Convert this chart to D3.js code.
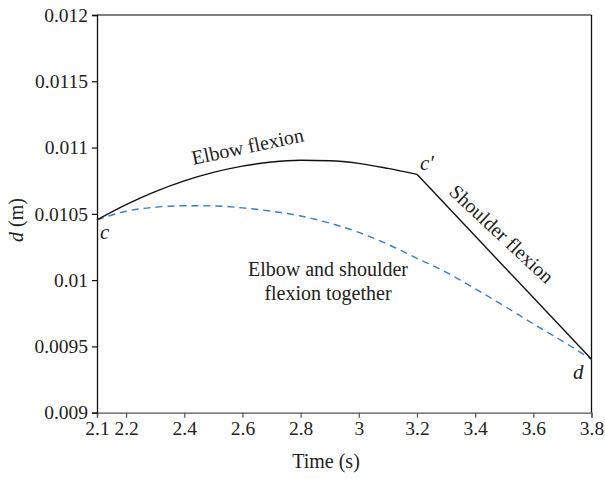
<!DOCTYPE html>
<html>
<head>
<meta charset="utf-8">
<script src="https://cdn.jsdelivr.net/npm/d3@7"></script>
<style>
  body { margin: 0; background: #fff; }
  svg text { font-family: "Liberation Serif", "DejaVu Serif", serif !important; fill: #222; }
</style>
</head>
<body>
<svg id="chart" width="605" height="479"></svg>
<script>
// time stamps (s)
var timeElbow = [2.1, 2.2, 2.3, 2.4, 2.5, 2.6, 2.7, 2.8, 2.9, 3.0, 3.1, 3.2];
var dElbow = [0.010455, 0.010570, 0.010668, 0.010749, 0.010813, 0.010860, 0.010891, 0.010904, 0.010901, 0.010881, 0.010843, 0.010798];
var timeShoulder = [3.2, 3.8];
var dShoulder = [0.010798, 0.009403];
var timeTogether = [2.1, 2.2, 2.3, 2.4, 2.5, 2.6, 2.7, 2.8, 2.9, 3.0, 3.1, 3.2, 3.3, 3.4, 3.5, 3.6, 3.7, 3.8];
var dTogether = [0.010455, 0.010520, 0.010550, 0.010561, 0.010560, 0.010545, 0.010520, 0.010484, 0.010430, 0.010360, 0.010270, 0.010165, 0.010060, 0.009935, 0.009805, 0.009670, 0.009540, 0.009403];
var xTicks = [2.1, 2.2, 2.4, 2.6, 2.8, 3, 3.2, 3.4, 3.6, 3.8];
var yTicks = [0.009, 0.0095, 0.01, 0.0105, 0.011, 0.0115, 0.012];

var serif = '"Liberation Serif", "DejaVu Serif", serif';
var svg = d3.select('#chart');
var mLeft = 97, mRight = 591.5, mTop = 15, mBottom = 412.7;

var x = d3.scaleLinear().domain([2.1, 3.8]).range([mLeft, mRight]);
var y = d3.scaleLinear().domain([0.009, 0.012]).range([mBottom, mTop]);

// frame: top grey, right side black
svg.append('line').attr('x1', mLeft).attr('x2', mRight).attr('y1', mTop).attr('y2', mTop)
	.attr('stroke', '#555').attr('stroke-width', 1.3);
svg.append('line').attr('x1', mRight).attr('x2', mRight).attr('y1', mTop).attr('y2', mBottom)
	.attr('stroke', '#111').attr('stroke-width', 1.3);

var xAxis = svg.append('g')
	.attr('transform', 'translate(0,' + mBottom + ')')
	.call(d3.axisBottom(x).tickValues(xTicks).tickSize(5).tickPadding(3)
		.tickFormat(function (d) { return String(+d.toFixed(1)); }));
xAxis.attr('font-size', null).attr('font-family', serif);
xAxis.select('.domain').attr('stroke', '#555').attr('stroke-width', 1.3);
xAxis.selectAll('.tick line').attr('stroke', '#555').attr('stroke-width', 1.2);
xAxis.selectAll('text').style('font-size', '19.5px').style('font-family', serif).attr('fill', '#222');

var yAxis = svg.append('g')
	.attr('transform', 'translate(' + mLeft + ',0)')
	.call(d3.axisLeft(y).tickValues(yTicks).tickSize(5).tickPadding(4)
		.tickFormat(function (d) { return String(+d.toFixed(4)); }));
yAxis.attr('font-size', null).attr('font-family', serif);
yAxis.select('.domain').attr('stroke', '#111').attr('stroke-width', 1.3);
yAxis.selectAll('.tick line').attr('stroke', '#111').attr('stroke-width', 1.2);
yAxis.selectAll('text').style('font-size', '19.5px').style('font-family', serif).attr('fill', '#222');

var line = d3.line()
	.x(function (d) { return x(d[0]); })
	.y(function (d) { return y(d[1]); })
	.curve(d3.curveMonotoneX);

svg.append('path')
	.datum(d3.zip(timeTogether, dTogether))
	.attr('d', line)
	.attr('fill', 'none')
	.attr('stroke', '#3a7cc9')
	.attr('stroke-width', 1.4)
	.attr('stroke-dasharray', '7,5');

svg.append('path')
	.datum(d3.zip(timeElbow, dElbow))
	.attr('d', line)
	.attr('fill', 'none')
	.attr('stroke', '#111')
	.attr('stroke-width', 1.4);

svg.append('path')
	.datum(d3.zip(timeShoulder, dShoulder))
	.attr('d', d3.line().x(function (d) { return x(d[0]); }).y(function (d) { return y(d[1]); }))
	.attr('fill', 'none')
	.attr('stroke', '#111')
	.attr('stroke-width', 1.4);

function label(t, size) {
	return svg.append('text').style('font-family', serif).style('font-size', size + 'px').text(t);
}

// annotations
label('Elbow flexion', 20).attr('transform', 'translate(249,153) rotate(-12)').attr('text-anchor', 'middle');
label('Shoulder flexion', 20).attr('transform', 'translate(497,239) rotate(43)').attr('text-anchor', 'middle');
label('Elbow and shoulder', 20).attr('x', 328).attr('y', 276).attr('text-anchor', 'middle');
label('flexion together', 20).attr('x', 328).attr('y', 300).attr('text-anchor', 'middle');

label('c', 21).attr('x', 100).attr('y', 239).attr('font-style', 'italic');
label('c\u2032', 21).attr('x', 420).attr('y', 170).attr('font-style', 'italic');
label('d', 21).attr('x', 573).attr('y', 379).attr('font-style', 'italic');

// axis titles
label('Time (s)', 20).attr('x', 326).attr('y', 468).attr('text-anchor', 'middle');
var yl = label('', 20).attr('transform', 'translate(23,220) rotate(-90)').attr('text-anchor', 'middle');
yl.append('tspan').attr('font-style', 'italic').text('d');
yl.append('tspan').text(' (m)');
</script>
</body>
</html>
